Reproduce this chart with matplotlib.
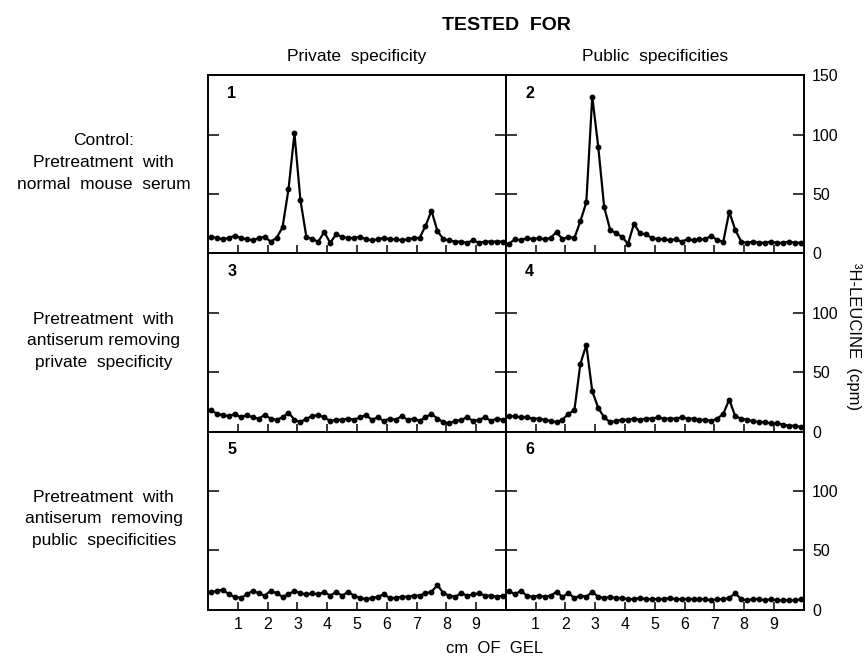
import numpy as np
import matplotlib
matplotlib.use('Agg')
import matplotlib.pyplot as plt

plt.rcParams['font.family'] = ['Liberation Sans', 'DejaVu Sans']

# gel position (cm), one fraction every 2 mm
cm = np.arange(0.1, 10.0, 0.2)

# cpm per fraction
p1 = [14, 13, 12, 13, 15, 13, 12, 11, 13, 14, 10, 13, 22, 54, 101, 45, 14, 12, 10, 18,
      9, 16, 14, 13, 13, 14, 12, 11, 12, 13, 12, 12, 11, 12, 13, 13, 23, 36, 19, 12,
      11, 10, 10, 9, 11, 9, 10, 10, 10, 10]
p2 = [8, 12, 11, 13, 12, 13, 12, 13, 18, 12, 14, 13, 27, 43, 132, 90, 39, 20, 17, 14,
      8, 25, 17, 16, 13, 12, 12, 11, 12, 10, 12, 11, 12, 12, 15, 11, 10, 35, 20, 10,
      9, 10, 9, 9, 10, 9, 9, 10, 9, 9]
p3 = [18, 15, 14, 13, 15, 12, 14, 12, 11, 14, 11, 10, 12, 16, 10, 8, 11, 13, 14, 12,
      9, 10, 10, 11, 10, 12, 14, 10, 12, 9, 11, 10, 13, 10, 11, 9, 12, 15, 11, 8,
      7, 9, 10, 12, 9, 10, 12, 9, 11, 10]
p4 = [13, 13, 12, 12, 11, 11, 10, 9, 8, 10, 15, 18, 57, 73, 34, 20, 12, 8, 9, 10,
      10, 11, 10, 11, 11, 12, 11, 11, 11, 12, 11, 11, 10, 10, 9, 11, 15, 27, 13, 11,
      10, 9, 8, 8, 7, 7, 6, 5, 5, 4]
p5 = [15, 16, 17, 13, 11, 10, 13, 16, 14, 12, 16, 14, 11, 13, 16, 14, 13, 14, 13, 15,
      12, 15, 12, 15, 12, 10, 9, 10, 11, 13, 10, 10, 11, 11, 12, 12, 14, 15, 21, 14,
      12, 11, 14, 12, 13, 14, 12, 12, 11, 12]
p6 = [16, 13, 16, 12, 11, 12, 11, 12, 15, 11, 14, 10, 12, 11, 15, 11, 10, 11, 10, 10,
      9, 9, 10, 9, 9, 9, 9, 10, 9, 9, 9, 9, 9, 9, 8, 9, 9, 10, 14, 9,
      8, 9, 9, 8, 9, 8, 8, 8, 8, 9]

panels = [[p1, p2], [p3, p4], [p5, p6]]
col_titles = ['Private  specificity', 'Public  specificities']
row_labels = ['Control:\nPretreatment  with\nnormal  mouse  serum',
              'Pretreatment  with\nantiserum removing\nprivate  specificity',
              'Pretreatment  with\nantiserum  removing\npublic  specificities']
x_ticks = [1, 2, 3, 4, 5, 6, 7, 8, 9]

fig, axes = plt.subplots(3, 2, figsize=(8.67, 6.6), dpi=100)
fig.subplots_adjust(left=0.240, right=0.927, top=0.886, bottom=0.076,
                    hspace=0, wspace=0)

n = 1
for r in range(3):
    for c in range(2):
        ax = axes[r, c]
        ax.plot(cm, panels[r][c], color='black', lw=1.6, marker='o', ms=3.2)
        ax.set_xlim(0, 10)
        ax.set_ylim(0, 150)
        for s in ax.spines.values():
            s.set_linewidth(1.4)
        ax.set_xticks(x_ticks)
        ax.tick_params(axis='x', direction='in', length=6, width=1.1,
                       labelsize=11.5, pad=5, labelbottom=(r == 2))
        ax.text(0.08, 0.9, str(n), transform=ax.transAxes, fontsize=11.5,
                fontweight='bold', ha='center', va='center')
        n += 1
        if c == 0:
            ax.set_yticks([50, 100])
            ax.tick_params(axis='y', direction='in', length=8, width=1.1,
                           left=True, right=True, labelleft=False)
            ax.text(-0.35, 0.51, row_labels[r], transform=ax.transAxes,
                    ha='center', va='center', fontsize=12.5, linespacing=1.55)
        else:
            if r == 0:
                ax.set_yticks([0, 50, 100, 150])
            else:
                ax.set_yticks([0, 50, 100])
            ax.tick_params(axis='y', direction='in', length=8, width=1.1,
                           left=True, right=True, labelleft=False,
                           labelright=True, labelsize=11.5, pad=6)
        if r == 0:
            ax.set_title(col_titles[c], fontsize=12.5, pad=10)

fig.text(0.584, 0.962, 'TESTED  FOR', ha='center', va='center', fontsize=14,
         fontweight='bold')
fig.text(0.57, 0.018, 'cm  OF  GEL', ha='center', va='center', fontsize=12)
fig.text(0.985, 0.49, '³H-LEUCINE  (cpm)', ha='center', va='center',
         rotation=270, fontsize=12)

plt.savefig('out.png', dpi=100)
